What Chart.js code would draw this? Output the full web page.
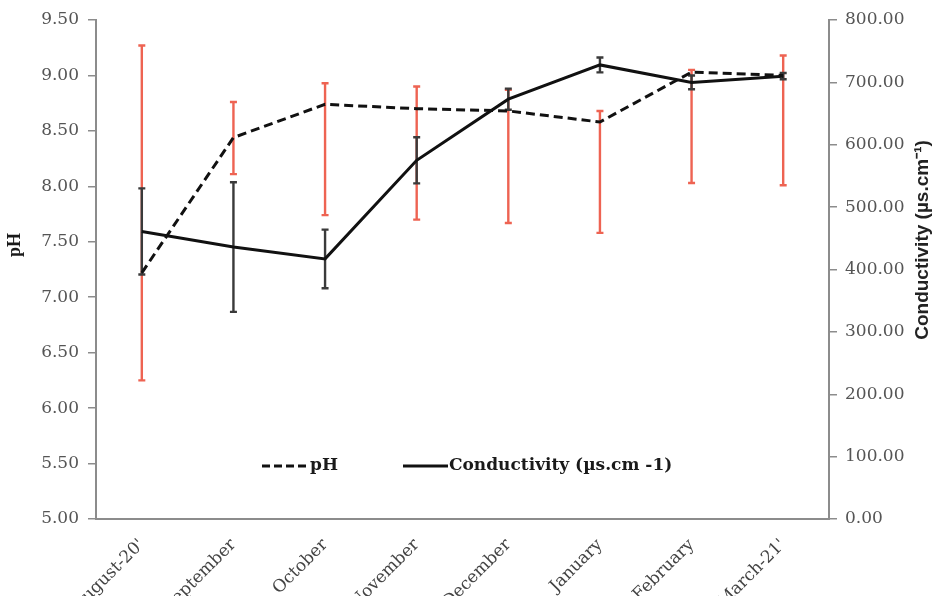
<!DOCTYPE html>
<html>
<head>
<meta charset="utf-8">
<script src="https://cdn.jsdelivr.net/npm/chart.js@4.4.0/dist/chart.umd.min.js"></script>
<style>
  html, body { margin: 0; padding: 0; background: #fff; }
  #wrap { width: 936px; height: 596px; position: relative; }
</style>
</head>
<body>
<div id="wrap"><canvas id="c"></canvas></div>
<script>
// ---- data ----
const months = ["August-20'", "September", "October", "November", "December", "January", "February", "March-21'"];
const phMean = [7.22, 8.44, 8.74, 8.70, 8.68, 8.58, 9.03, 9.00];
const phErrUp = [2.05, 0.32, 0.19, 0.20, 0.19, 0.10, 0.02, 0.18];
const phErrDown = [0.97, 0.33, 1.00, 1.00, 1.01, 1.00, 1.00, 0.99];
const condMean = [461, 436, 417, 575, 673, 728, 700, 710];
const condErr = [69, 104, 47, 37, 17, 12, 11, 5];
const phTicks = [5.0, 5.5, 6.0, 6.5, 7.0, 7.5, 8.0, 8.5, 9.0, 9.5];
const condTicks = [0, 100, 200, 300, 400, 500, 600, 700, 800];
const legendLabels = ["pH", "Conductivity (\u00b5s.cm -1)"];
const leftTitle = "pH";
const rightTitle = "Conductivity (\u00b5s.cm\u207b\u00b9)";

const serif = "'DejaVu Serif', 'Liberation Serif', serif";
const tickColor = '#555555';
const axisColor = '#8c8c8c';

const errorBars = {
  id: 'errorBars',
  beforeDatasetsDraw(chart) {
    const ctx = chart.ctx;
    const x = chart.scales.x, y = chart.scales.y, y1 = chart.scales.y1;
    const cap = 3.5;
    ctx.save();
    ctx.lineWidth = 2.4;
    // pH (red)
    ctx.strokeStyle = '#ee6352';
    months.forEach((m, i) => {
      const px = x.getPixelForValue(i);
      const top = y.getPixelForValue(phMean[i] + phErrUp[i]);
      const bot = y.getPixelForValue(phMean[i] - phErrDown[i]);
      ctx.beginPath();
      ctx.moveTo(px, top); ctx.lineTo(px, bot);
      ctx.moveTo(px - cap, top); ctx.lineTo(px + cap, top);
      ctx.moveTo(px - cap, bot); ctx.lineTo(px + cap, bot);
      ctx.stroke();
    });
    // conductivity (dark)
    ctx.strokeStyle = '#3a3a3a';
    months.forEach((m, i) => {
      const px = x.getPixelForValue(i);
      const top = y1.getPixelForValue(condMean[i] + condErr[i]);
      const bot = y1.getPixelForValue(condMean[i] - condErr[i]);
      ctx.beginPath();
      ctx.moveTo(px, top); ctx.lineTo(px, bot);
      ctx.moveTo(px - cap, top); ctx.lineTo(px + cap, top);
      ctx.moveTo(px - cap, bot); ctx.lineTo(px + cap, bot);
      ctx.stroke();
    });
    ctx.restore();
  }
};

const extras = {
  id: 'extras',
  afterDraw(chart) {
    const ctx = chart.ctx;
    ctx.save();
    // legend
    const ly = 466;
    ctx.strokeStyle = '#111';
    ctx.lineWidth = 3;
    ctx.setLineDash([8, 4]);
    ctx.beginPath(); ctx.moveTo(262, ly); ctx.lineTo(306, ly); ctx.stroke();
    ctx.setLineDash([]);
    ctx.beginPath(); ctx.moveTo(403, ly); ctx.lineTo(448, ly); ctx.stroke();
    ctx.fillStyle = '#1a1a1a';
    ctx.font = "bold 17px " + serif;
    ctx.textBaseline = 'middle';
    ctx.textAlign = 'left';
    ctx.fillText(legendLabels[0], 310, ly);
    ctx.fillText(legendLabels[1], 449, ly);
    // left title
    ctx.save();
    ctx.translate(15, 245);
    ctx.rotate(-Math.PI / 2);
    ctx.textAlign = 'center';
    ctx.font = "bold 18px 'Liberation Serif', serif";
    ctx.fillText(leftTitle, 0, 0);
    ctx.restore();
    // right title
    ctx.save();
    ctx.translate(923, 240);
    ctx.rotate(-Math.PI / 2);
    ctx.textAlign = 'center';
    ctx.font = "bold 19px 'Liberation Sans', Arial, sans-serif";
    ctx.fillStyle = '#222';
    ctx.fillText(rightTitle, 0, 0);
    ctx.restore();
    ctx.restore();
  }
};

new Chart(document.getElementById('c'), {
  type: 'line',
  data: {
    labels: months,
    datasets: [
      {
        label: legendLabels[0],
        data: phMean,
        yAxisID: 'y',
        borderColor: '#111',
        borderWidth: 3,
        borderDash: [9, 5],
        pointRadius: 0,
        fill: false,
        tension: 0
      },
      {
        label: legendLabels[1],
        data: condMean,
        yAxisID: 'y1',
        borderColor: '#111',
        borderWidth: 3,
        pointRadius: 0,
        fill: false,
        tension: 0
      }
    ]
  },
  options: {
    responsive: true,
    maintainAspectRatio: false,
    animation: false,
    devicePixelRatio: 1,
    layout: { padding: { top: 20, right: 0, left: 0, bottom: 0 } },
    plugins: {
      legend: { display: false },
      tooltip: { enabled: false }
    },
    scales: {
      x: {
        offset: true,
        grid: { display: false, drawTicks: false },
        border: { display: true, color: axisColor, width: 2 },
        ticks: {
          autoSkip: false,
          maxRotation: 45,
          minRotation: 45,
          padding: 16,
          color: '#444444',
          font: { family: serif, size: 17 }
        },
        afterFit(s) { s.height = 77; }
      },
      y: {
        position: 'left',
        min: phTicks[0],
        max: phTicks[phTicks.length - 1],
        afterBuildTicks(s) { s.ticks = phTicks.map(v => ({ value: v })); },
        grid: { drawOnChartArea: false, drawTicks: true, tickLength: 8, color: axisColor, lineWidth: 1.5 },
        border: { display: true, color: axisColor, width: 2 },
        ticks: {
          padding: 9,
          color: tickColor,
          font: { family: serif, size: 17 },
          callback: v => Number(v).toFixed(2)
        },
        afterFit(s) { s.width = 96; }
      },
      y1: {
        position: 'right',
        min: condTicks[0],
        max: condTicks[condTicks.length - 1],
        afterBuildTicks(s) { s.ticks = condTicks.map(v => ({ value: v })); },
        grid: { drawOnChartArea: false, drawTicks: true, tickLength: 8, color: axisColor, lineWidth: 1.5 },
        border: { display: true, color: axisColor, width: 2 },
        ticks: {
          padding: 8,
          color: tickColor,
          font: { family: serif, size: 17 },
          callback: v => Number(v).toFixed(2)
        },
        afterFit(s) { s.width = 107; }
      }
    }
  },
  plugins: [errorBars, extras]
});
</script>
</body>
</html>
